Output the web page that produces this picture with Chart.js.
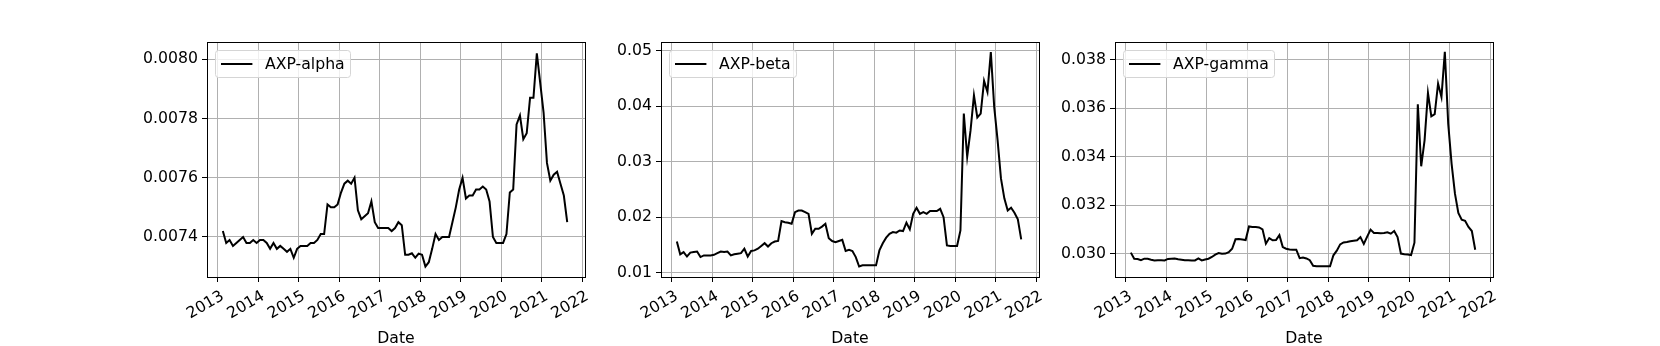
<!DOCTYPE html>
<html>
<head>
<meta charset="utf-8">
<script src="https://cdn.jsdelivr.net/npm/chart.js@4.4.1/dist/chart.umd.min.js"></script>
<style>
  html, body { margin: 0; padding: 0; background: #fff; }
  body { width: 1660px; height: 346px; position: relative; overflow: hidden; }
  .panel { position: absolute; top: 0; }
</style>
</head>
<body>
<canvas class="panel" id="alpha-chart" width="498" height="346" style="left:107px"></canvas>
<canvas class="panel" id="beta-chart" width="498" height="346" style="left:561px"></canvas>
<canvas class="panel" id="gamma-chart" width="498" height="346" style="left:1015px"></canvas>
<script>
// monthly observations, Feb 2013 .. Aug 2021
const startYear = 2013
const startMonth = 2
const monthCount = 103
const months = []
for (let i = 0; i < monthCount; i++) {
    const m = startMonth - 1 + i
    months.push(`${startYear + Math.floor(m / 12)}-${String(m % 12 + 1).padStart(2, '0')}`)
}

const yearTicks = [2013, 2014, 2015, 2016, 2017, 2018, 2019, 2020, 2021, 2022]

const alphaValues = [
    0.00742, 0.00738, 0.00739, 0.00737, 0.00738, 0.00739, 0.00740, 0.00738, 0.00738, 0.00739, 0.00738,
    0.00739, 0.00739, 0.00738, 0.00736, 0.00738, 0.00736, 0.00737, 0.00736, 0.00735, 0.00736, 0.00733, 0.00736,
    0.00737, 0.00737, 0.00737, 0.00738, 0.00738, 0.00739, 0.00741, 0.00741, 0.00751, 0.00750, 0.00750, 0.00751,
    0.00755, 0.00758, 0.00759, 0.00758, 0.00760, 0.00749, 0.00746, 0.00747, 0.00748, 0.00752, 0.00745, 0.00743,
    0.00743, 0.00743, 0.00743, 0.00742, 0.00743, 0.00745, 0.00744, 0.00734, 0.00734, 0.007345, 0.00733, 0.007344,
    0.00734, 0.00730, 0.007315, 0.00736, 0.00741, 0.00739, 0.00740, 0.00740, 0.00740, 0.00745, 0.00750, 0.00756,
    0.00760, 0.00753, 0.00754, 0.00754, 0.00756, 0.00756, 0.00757, 0.00756, 0.00752, 0.00740, 0.00738, 0.00738,
    0.00738, 0.00741, 0.00755, 0.00756, 0.00778, 0.00781, 0.00773, 0.00775, 0.00787, 0.00787, 0.00802, 0.00792,
    0.00782, 0.00765, 0.00759, 0.00761, 0.00762, 0.00758, 0.00754, 0.00745
]
const betaValues = [
    0.0156, 0.0133, 0.0137, 0.0129, 0.0136, 0.0137, 0.0138, 0.0128, 0.0131, 0.0131, 0.0131,
    0.0132, 0.0135, 0.0138, 0.0137, 0.0138, 0.0131, 0.0133, 0.0134, 0.0135, 0.0143, 0.0129, 0.0139,
    0.0140, 0.0143, 0.0148, 0.0153, 0.0147, 0.0153, 0.0156, 0.0157, 0.0193, 0.0191, 0.0190, 0.0188,
    0.0209, 0.0212, 0.0212, 0.0209, 0.0206, 0.0170, 0.0179, 0.0179, 0.0183, 0.0188, 0.0162, 0.0157,
    0.0155, 0.0157, 0.0159, 0.0139, 0.0141, 0.0139, 0.0128, 0.0111, 0.0113, 0.0113, 0.0113, 0.0113,
    0.0113, 0.0140, 0.0153, 0.0163, 0.0170, 0.0173, 0.0172, 0.0176, 0.0175, 0.0190, 0.0178, 0.0206,
    0.0217, 0.0206, 0.0209, 0.0206, 0.0211, 0.0211, 0.0211, 0.0215, 0.0200, 0.0149, 0.0148, 0.0148,
    0.0148, 0.0176, 0.0387, 0.0309, 0.0357, 0.0420, 0.0380, 0.0387, 0.0446, 0.0426, 0.0498, 0.0399,
    0.0339, 0.0270, 0.0234, 0.0212, 0.0217, 0.0208, 0.0196, 0.0160
]
const gammaValues = [
    0.03004, 0.02979, 0.02978, 0.02973, 0.02979, 0.02979, 0.02975, 0.02972, 0.02973, 0.02973, 0.02972,
    0.02978, 0.02979, 0.02980, 0.02977, 0.02975, 0.02973, 0.02973, 0.02972, 0.02972, 0.02980, 0.02972, 0.02976,
    0.02979, 0.02986, 0.02996, 0.03002, 0.02999, 0.03000, 0.03006, 0.03020, 0.03059, 0.03060, 0.03058, 0.03056,
    0.03112, 0.03110, 0.03110, 0.03108, 0.03100, 0.03041, 0.03064, 0.03055, 0.03056, 0.03076, 0.03027, 0.03020,
    0.03017, 0.03016, 0.03016, 0.02981, 0.02984, 0.02980, 0.02973, 0.02950, 0.02948, 0.02948, 0.02948, 0.02948,
    0.02948, 0.02993, 0.03012, 0.03038, 0.03046, 0.03048, 0.03051, 0.03053, 0.03055, 0.03068, 0.03040, 0.03070,
    0.03099, 0.03085, 0.03085, 0.03084, 0.03085, 0.03088, 0.03082, 0.03093, 0.03068, 0.03000, 0.02997, 0.02996,
    0.02994, 0.03045, 0.03616, 0.03360, 0.03467, 0.03663, 0.03566, 0.03575, 0.03701, 0.03646, 0.03832, 0.03536,
    0.03371, 0.03247, 0.03168, 0.03140, 0.03135, 0.03110, 0.03093, 0.03016
]

const alphaTicks = [0.0074, 0.0076, 0.0078, 0.0080]
const betaTicks = [0.01, 0.02, 0.03, 0.04, 0.05]
const gammaTicks = [0.030, 0.032, 0.034, 0.036, 0.038]

const FONT = { family: '"DejaVu Sans", sans-serif', size: 15.7 }

// month string -> decimal year (middle of month)
function toYear(m) {
    const [y, mo] = m.split('-').map(Number)
    return y + (mo - 0.5) / 12
}

// full box around the plot area, like the matplotlib spines
const framePlugin = {
    id: 'frame',
    afterDatasetsDraw(chart) {
        const { ctx, chartArea } = chart
        ctx.save()
        ctx.strokeStyle = '#000'
        ctx.lineWidth = 1
        ctx.strokeRect(Math.round(chartArea.left) + 0.5, Math.round(chartArea.top) + 0.5,
            Math.round(chartArea.right - chartArea.left), Math.round(chartArea.bottom - chartArea.top))
        ctx.restore()
    }
}

// legend box in the upper left corner of the plot area
const legendPlugin = {
    id: 'insideLegend',
    afterDraw(chart) {
        const { ctx, chartArea } = chart
        const label = chart.data.datasets[0].label
        const fs = FONT.size
        ctx.save()
        ctx.font = `${fs}px ${FONT.family}`
        const textW = ctx.measureText(label).width
        const x0 = Math.round(chartArea.left) + 8.5
        const y0 = Math.round(chartArea.top) + 8.5
        const w = Math.round(0.35 * fs * 2 + 2 * fs + 0.8 * fs + textW)
        const h = 27
        ctx.beginPath()
        ctx.roundRect(x0, y0, w, h, 3)
        ctx.fillStyle = 'rgba(255,255,255,0.8)'
        ctx.fill()
        ctx.strokeStyle = '#d5d5d5'
        ctx.lineWidth = 1
        ctx.stroke()
        const cy = y0 + h / 2
        ctx.beginPath()
        ctx.moveTo(x0 + 0.35 * fs, cy)
        ctx.lineTo(x0 + 0.35 * fs + 2 * fs, cy)
        ctx.strokeStyle = '#000'
        ctx.lineWidth = 2
        ctx.stroke()
        ctx.fillStyle = '#000'
        ctx.textBaseline = 'middle'
        ctx.fillText(label, x0 + 0.35 * fs + 2.8 * fs, cy + 1)
        ctx.restore()
    }
}

function makeChart(canvasId, label, values, yTicks, yMin, yMax, decimals) {
    const canvas = document.querySelector('#' + canvasId)
    return new Chart(canvas.getContext('2d'), {
        type: 'line',
        data: {
            datasets: [{
                label: label,
                data: months.map((m, i) => ({ x: toYear(m), y: values[i] })),
                borderColor: '#000',
                backgroundColor: '#000',
                borderWidth: 2,
                pointRadius: 0,
                tension: 0
            }]
        },
        options: {
            responsive: false,
            animation: false,
            devicePixelRatio: 1,
            layout: { padding: { top: 42, right: 20, left: 0, bottom: 0 } },
            plugins: {
                legend: { display: false },
                tooltip: { enabled: false }
            },
            scales: {
                x: {
                    type: 'linear',
                    min: 2012.734,
                    max: 2022.064,
                    afterBuildTicks: scale => { scale.ticks = yearTicks.map(v => ({ value: v })) },
                    afterFit: scale => { scale.height = 69 },
                    ticks: {
                        minRotation: 30,
                        maxRotation: 30,
                        color: '#000',
                        font: FONT,
                        padding: 5,
                        labelOffset: 5,
                        autoSkip: false,
                        callback: v => String(v)
                    },
                    grid: { color: '#b0b0b0', lineWidth: 1, tickColor: '#000', tickLength: 5 },
                    border: { color: '#000', width: 1 },
                    title: { display: true, text: 'Date', color: '#000', font: { ...FONT, lineHeight: 1 }, padding: { top: 0, bottom: -1 } }
                },
                y: {
                    min: yMin,
                    max: yMax,
                    afterBuildTicks: scale => { scale.ticks = yTicks.map(v => ({ value: v })) },
                    afterFit: scale => { scale.width = 100 },
                    ticks: {
                        color: '#000',
                        font: FONT,
                        padding: 4,
                        callback: v => v.toFixed(decimals)
                    },
                    grid: { color: '#b0b0b0', lineWidth: 1, tickColor: '#000', tickLength: 5 },
                    border: { color: '#000', width: 1 }
                }
            }
        },
        plugins: [framePlugin, legendPlugin]
    })
}

makeChart('alpha-chart', 'AXP-alpha', alphaValues, alphaTicks, 0.007265, 0.008058, 4)
makeChart('beta-chart', 'AXP-beta', betaValues, betaTicks, 0.0092, 0.05162, 2)
makeChart('gamma-chart', 'AXP-gamma', gammaValues, gammaTicks, 0.029035, 0.038726, 3)
</script>
</body>
</html>
